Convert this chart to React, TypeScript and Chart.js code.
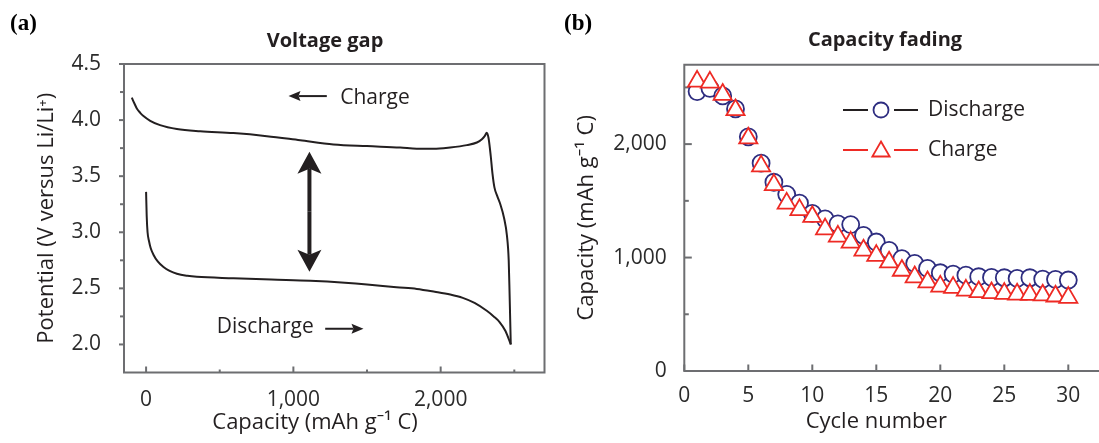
import React, { useEffect, useRef } from 'react';
import { Chart, registerables } from 'chart.js';

Chart.register(...registerables);

const SANS = '"Open Sans", "Noto Sans", "DejaVu Sans", sans-serif';
const SERIF = '"Liberation Serif", "DejaVu Serif", serif';
const INK = '#231f20';
const TICK_TEXT = '#2b2b2b';
const AXIS_GREY = '#6d6e71';
const NAVY = '#2e2d80';
const RED = '#ee2a24';

// (a) first-cycle voltage profile
const dischargeCapacity = [0, 4, 10, 20, 31, 50, 79, 118, 160, 209, 280, 344, 593, 850, 1114, 1350, 1500, 1700, 1838, 1960, 2065, 2150, 2230, 2313, 2360, 2400, 2440, 2476];
const dischargeVoltage = [3.36, 3.15, 3.0, 2.92, 2.86, 2.8, 2.74, 2.69, 2.655, 2.63, 2.612, 2.603, 2.59, 2.578, 2.567, 2.55, 2.535, 2.51, 2.495, 2.47, 2.445, 2.415, 2.37, 2.3, 2.25, 2.2, 2.12, 2.0];
const chargeCapacity = [-97, -80, -63, -40, -18, 28, 95, 209, 367, 593, 820, 1046, 1272, 1499, 1725, 1838, 1951, 2065, 2178, 2246, 2280, 2300, 2313, 2325, 2340, 2352, 2365, 2385, 2405, 2430, 2450, 2462, 2468, 2476];
const chargeVoltage = [4.2, 4.15, 4.104, 4.065, 4.036, 3.994, 3.955, 3.92, 3.9, 3.884, 3.857, 3.82, 3.783, 3.768, 3.756, 3.745, 3.744, 3.756, 3.777, 3.8, 3.83, 3.86, 3.887, 3.84, 3.68, 3.52, 3.4, 3.32, 3.25, 3.13, 2.97, 2.75, 2.45, 2.0];
const voltageTicks = [2.0, 2.5, 3.0, 3.5, 4.0, 4.5];
const voltageMinorTicks = [2.25, 2.75, 3.25, 3.75, 4.25];
const capacityTicks = [0, 1000, 2000];
const capacityMinorTicks = [500, 1500, 2500];

// (b) capacity retention over cycling
const cycles = [1, 2, 3, 4, 5, 6, 7, 8, 9, 10, 11, 12, 13, 14, 15, 16, 17, 18, 19, 20, 21, 22, 23, 24, 25, 26, 27, 28, 29, 30];
const dischargeByCycle = [2463, 2492, 2425, 2310, 2064, 1832, 1664, 1557, 1480, 1390, 1341, 1297, 1291, 1195, 1137, 1064, 991, 948, 904, 866, 854, 845, 831, 825, 822, 816, 822, 810, 808, 802];
const chargeByCycle = [2553, 2544, 2437, 2301, 2052, 1806, 1641, 1478, 1420, 1360, 1251, 1187, 1134, 1064, 1017, 959, 886, 828, 784, 746, 735, 711, 697, 688, 682, 676, 673, 668, 659, 647];
const cycleTicks = [0, 5, 10, 15, 20, 25, 30];
const fadingTicks = [0, 1000, 2000];
const fadingMinorTicks = [500, 1500, 2500];

const HEIGHT = 443;
const CANVAS_W = 650;

const font = (size: number, weight = 'normal') => ({ family: SANS, size, weight });

// Axis frame plus hand-placed tick marks (inward or outward)
const frameAndTicks = {
  id: 'frameAndTicks',
  beforeDatasetsDraw(chart: any, _args: any, o: any) {
    const { ctx, chartArea: a } = chart;
    ctx.save();
    ctx.strokeStyle = o.color;
    ctx.lineWidth = o.width;
    for (const s of o.ticks) {
      const scale = chart.scales[s.axis];
      const mark = (v: number, len: number) => {
        const p = scale.getPixelForValue(v);
        ctx.beginPath();
        if (scale.isHorizontal()) {
          ctx.moveTo(p, a.bottom);
          ctx.lineTo(p, s.inward ? a.bottom - len : a.bottom + len);
        } else {
          ctx.moveTo(a.left, p);
          ctx.lineTo(s.inward ? a.left + len : a.left - len, p);
        }
        ctx.stroke();
      };
      s.major.forEach((v: number) => mark(v, s.majorLen));
      s.minor.forEach((v: number) => mark(v, s.minorLen));
    }
    ctx.beginPath();
    if (o.closed) {
      ctx.rect(a.left, a.top, a.right - a.left, a.bottom - a.top);
    } else {
      ctx.moveTo(a.right, a.top);
      ctx.lineTo(a.left, a.top);
      ctx.lineTo(a.left, a.bottom);
      ctx.lineTo(a.right, a.bottom);
    }
    ctx.stroke();
    ctx.restore();
  },
};

// Free text: panel tag, panel title and x-axis caption
const captions = {
  id: 'captions',
  afterDraw(chart: any, _args: any, o: any) {
    const { ctx } = chart;
    ctx.save();
    for (const c of o.items) {
      ctx.font = c.font;
      ctx.fillStyle = c.color;
      ctx.textAlign = c.align;
      ctx.textBaseline = c.baseline;
      const x = c.axisValue !== undefined ? chart.scales.x.getPixelForValue(c.axisValue) : c.x;
      ctx.fillText(c.text, x, c.y);
    }
    ctx.restore();
  },
};

function arrow(ctx: CanvasRenderingContext2D, x1: number, y1: number, x2: number, y2: number, shaft: number, len: number, half: number, notch: number) {
  const dx = x2 - x1, dy = y2 - y1, d = Math.hypot(dx, dy);
  const ux = dx / d, uy = dy / d, px = -uy, py = ux;
  const sx = x2 - ux * (len - notch), sy = y2 - uy * (len - notch);
  ctx.lineWidth = shaft;
  ctx.beginPath();
  ctx.moveTo(x1, y1);
  ctx.lineTo(sx, sy);
  ctx.stroke();
  const bx = x2 - ux * len, by = y2 - uy * len;
  ctx.beginPath();
  ctx.moveTo(x2, y2);
  ctx.lineTo(bx + px * half, by + py * half);
  ctx.lineTo(sx, sy);
  ctx.lineTo(bx - px * half, by - py * half);
  ctx.closePath();
  ctx.fill();
}

// Voltage-gap arrow and charge/discharge direction notes
const profileNotes = {
  id: 'profileNotes',
  afterDatasetsDraw(chart: any, _args: any, o: any) {
    const { ctx, scales } = chart;
    const x = scales.x, y = scales.y;
    ctx.save();
    ctx.fillStyle = INK;
    ctx.strokeStyle = INK;
    const gx = x.getPixelForValue(o.gap.x);
    const gTop = y.getPixelForValue(o.gap.to);
    const gBot = y.getPixelForValue(o.gap.from);
    const mid = (gTop + gBot) / 2;
    arrow(ctx, gx, mid, gx, gTop, 4, 22, 12, 5);
    arrow(ctx, gx, mid, gx, gBot, 4, 22, 12, 5);
    ctx.font = `21px ${SANS}`;
    ctx.textAlign = 'left';
    ctx.textBaseline = 'middle';
    for (const n of o.notes) {
      ctx.fillText(n.text, x.getPixelForValue(n.x), y.getPixelForValue(n.y));
      const ay = y.getPixelForValue(n.arrowY);
      arrow(ctx, x.getPixelForValue(n.from), ay, x.getPixelForValue(n.to), ay, 2, 12, 5, 2);
    }
    ctx.restore();
  },
};

function marker(ctx: CanvasRenderingContext2D, style: string, cx: number, cy: number, r: number) {
  ctx.beginPath();
  if (style === 'triangle') {
    for (let k = 0; k < 3; k++) {
      const rad = (k * 2 * Math.PI) / 3;
      const px = cx + Math.sin(rad) * r, py = cy - Math.cos(rad) * r;
      if (k === 0) ctx.moveTo(px, py); else ctx.lineTo(px, py);
    }
    ctx.closePath();
  } else {
    ctx.arc(cx, cy, r, 0, Math.PI * 2);
  }
  ctx.fill();
  ctx.stroke();
}

// Line–marker–line legend
const markerLegend = {
  id: 'markerLegend',
  afterDatasetsDraw(chart: any, _args: any, o: any) {
    const { ctx, chartArea: a } = chart;
    ctx.save();
    o.items.forEach((it: any, i: number) => {
      const cy = a.top + o.top + i * o.gap;
      const x0 = a.left + o.left;
      ctx.strokeStyle = it.line;
      ctx.lineWidth = 2;
      ctx.beginPath();
      ctx.moveTo(x0, cy);
      ctx.lineTo(x0 + 25, cy);
      ctx.moveTo(x0 + 51, cy);
      ctx.lineTo(x0 + 75, cy);
      ctx.stroke();
      ctx.strokeStyle = it.marker;
      ctx.fillStyle = '#ffffff';
      ctx.lineWidth = 1.8;
      marker(ctx, it.style, x0 + 38, cy + it.dy, it.radius);
      ctx.fillStyle = INK;
      ctx.font = `21px ${SANS}`;
      ctx.textAlign = 'left';
      ctx.textBaseline = 'middle';
      ctx.fillText(it.label, x0 + 85, cy);
    });
    ctx.restore();
  },
};

const setTicks = (values: number[]) => (scale: any) => {
  scale.ticks = values.map((value) => ({ value }));
};

function voltageConfig(): any {
  const toPoints = (xs: number[], ys: number[]) => xs.map((x, i) => ({ x, y: ys[i] }));
  const line = { borderColor: INK, borderWidth: 2, pointRadius: 0, fill: false, cubicInterpolationMode: 'monotone' };
  return {
    type: 'line',
    data: {
      datasets: [
        { label: 'Charge', data: toPoints(chargeCapacity, chargeVoltage), ...line },
        { label: 'Discharge', data: toPoints(dischargeCapacity, dischargeVoltage), ...line },
      ],
    },
    options: {
      animation: false,
      responsive: false,
      events: [],
      layout: { padding: { left: 0, right: 105.5, top: 64, bottom: 0 } },
      plugins: {
        legend: { display: false },
        tooltip: { enabled: false },
        title: { display: false },
        frameAndTicks: {
          color: AXIS_GREY,
          width: 2,
          closed: true,
          ticks: [
            { axis: 'x', major: capacityTicks, minor: capacityMinorTicks, majorLen: 6, minorLen: 3, inward: true },
            { axis: 'y', major: voltageTicks, minor: voltageMinorTicks, majorLen: 5, minorLen: 4, inward: false },
          ],
        },
        profileNotes: {
          gap: { x: 1109, from: 2.648, to: 3.718 },
          notes: [
            { text: 'Charge', x: 1318, y: 4.196, arrowY: 4.214, from: 1227, to: 967 },
            { text: 'Discharge', x: 480, y: 2.151, arrowY: 2.14, from: 1216, to: 1476 },
          ],
        },
        captions: {
          items: [
            { text: '(a)', x: 10, y: 30, font: `bold 23px ${SERIF}`, color: '#000', align: 'left', baseline: 'alphabetic' },
            { text: 'Voltage gap', x: 325, y: 41, font: `bold 20px ${SANS}`, color: INK, align: 'center', baseline: 'middle' },
            { text: 'Capacity (mAh g\u207B\u00B9 C)', axisValue: 1147, y: 422.5, font: `22px ${SANS}`, color: INK, align: 'center', baseline: 'middle' },
          ],
        },
      },
      scales: {
        x: {
          type: 'linear',
          min: -150,
          max: 2705,
          afterBuildTicks: setTicks(capacityTicks),
          afterFit: (s: any) => { s.height = HEIGHT - 372.5; },
          grid: { display: false },
          border: { display: false },
          ticks: { font: font(21), color: TICK_TEXT, padding: 6.7, maxRotation: 0, autoSkip: false, callback: (v: any) => Number(v).toLocaleString('en-US') },
        },
        y: {
          type: 'linear',
          min: 1.75,
          max: 4.5,
          afterBuildTicks: setTicks(voltageTicks),
          afterFit: (s: any) => { s.width = 124; },
          grid: { display: false },
          border: { display: false },
          ticks: { font: font(21), color: TICK_TEXT, padding: 15, autoSkip: false, callback: (v: any) => Number(v).toFixed(1) },
          title: { display: true, text: 'Potential (V versus Li/Li\u207A)', color: INK, font: font(22), padding: { top: 33.3, bottom: 0 } },
        },
      },
    },
    plugins: [frameAndTicks, profileNotes, captions],
  };
}

function fadingConfig(): any {
  const toPoints = (ys: number[]) => cycles.map((x, i) => ({ x, y: ys[i] }));
  return {
    type: 'line',
    data: {
      datasets: [
        {
          label: 'Discharge', data: toPoints(dischargeByCycle), showLine: false, order: 1,
          pointStyle: 'circle', pointRadius: 8.5, pointBorderWidth: 1.8, pointBorderColor: NAVY, pointBackgroundColor: '#ffffff',
          borderColor: NAVY, backgroundColor: '#ffffff',
        },
        {
          label: 'Charge', data: toPoints(chargeByCycle), showLine: false, order: 0,
          pointStyle: 'triangle', pointRadius: 10.5, pointBorderWidth: 1.8, pointBorderColor: RED, pointBackgroundColor: '#ffffff',
          borderColor: RED, backgroundColor: '#ffffff',
        },
      ],
    },
    options: {
      animation: false,
      responsive: false,
      events: [],
      layout: { padding: { left: 0, right: 103.3, top: 64.7, bottom: 0 } },
      plugins: {
        legend: { display: false },
        tooltip: { enabled: false },
        title: { display: false },
        frameAndTicks: {
          color: AXIS_GREY,
          width: 2,
          closed: false,
          ticks: [
            { axis: 'x', major: cycleTicks, minor: [], majorLen: 6.5, minorLen: 0, inward: true },
            { axis: 'y', major: fadingTicks, minor: fadingMinorTicks, majorLen: 7.5, minorLen: 4.5, inward: true },
          ],
        },
        markerLegend: {
          left: 158.7,
          top: 45.3,
          gap: 40,
          items: [
            { label: 'Discharge', line: INK, marker: NAVY, style: 'circle', radius: 7.5, dy: 0 },
            { label: 'Charge', line: RED, marker: RED, style: 'triangle', radius: 10, dy: 1.5 },
          ],
        },
        captions: {
          items: [
            { text: '(b)', x: 4, y: 30, font: `bold 23px ${SERIF}`, color: '#000', align: 'left', baseline: 'alphabetic' },
            { text: 'Capacity fading', x: 325, y: 40, font: `bold 20px ${SANS}`, color: INK, align: 'center', baseline: 'middle' },
            { text: 'Cycle number', axisValue: 15, y: 421.5, font: `22px ${SANS}`, color: INK, align: 'center', baseline: 'middle' },
          ],
        },
      },
      scales: {
        x: {
          type: 'linear',
          min: 0,
          max: 33,
          afterBuildTicks: setTicks(cycleTicks),
          afterFit: (s: any) => { s.height = HEIGHT - 371; },
          grid: { display: false },
          border: { display: false },
          ticks: { font: font(21), color: TICK_TEXT, padding: 4.9, maxRotation: 0, autoSkip: false },
        },
        y: {
          type: 'linear',
          min: 0,
          max: 2700,
          afterBuildTicks: setTicks(fadingTicks),
          afterFit: (s: any) => { s.width = 124.3; },
          grid: { display: false },
          border: { display: false },
          ticks: { font: font(21), color: TICK_TEXT, padding: 9.5, autoSkip: false, callback: (v: any) => Number(v).toLocaleString('en-US') },
          title: { display: true, text: 'Capacity (mAh g\u207B\u00B9 C)', color: INK, font: font(22), padding: { top: 13.8, bottom: 0 } },
        },
      },
    },
    plugins: [frameAndTicks, markerLegend, captions],
  };
}

function Panel({ left, build }: { left: number; build: () => any }) {
  const ref = useRef<HTMLCanvasElement>(null);
  useEffect(() => {
    const chart = new Chart(ref.current as HTMLCanvasElement, build());
    return () => chart.destroy();
  }, [build]);
  return (
    <canvas
      ref={ref}
      width={CANVAS_W}
      height={HEIGHT}
      style={{ position: 'absolute', left, top: 0, width: CANVAS_W, height: HEIGHT }}
    />
  );
}

export default function App() {
  return (
    <div style={{ position: 'absolute', left: 0, top: 0, width: 1099, height: HEIGHT, overflow: 'hidden', background: '#ffffff' }}>
      <Panel left={0} build={voltageConfig} />
      <Panel left={560} build={fadingConfig} />
    </div>
  );
}
